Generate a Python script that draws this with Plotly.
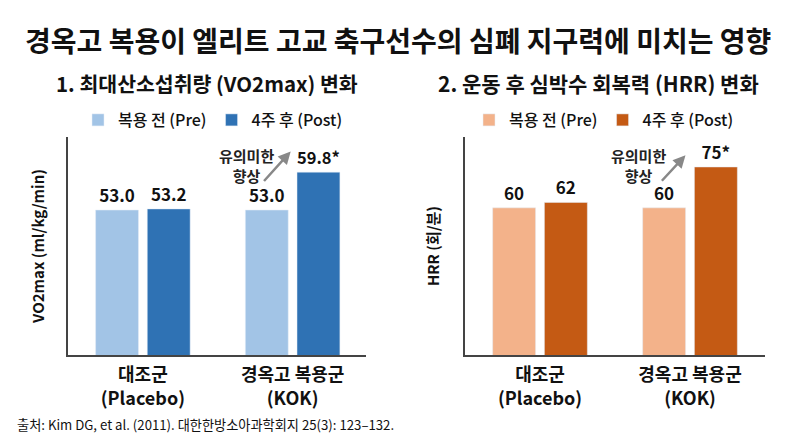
import plotly.graph_objects as go

# data
groups = ["대조군<br>(Placebo)", "경옥고 복용군<br>(KOK)"]
vo2_pre = [53.0, 53.0]
vo2_post = [53.2, 59.8]
vo2_post_labels = ["53.2", "59.8*"]
hrr_pre = [60, 60]
hrr_post = [62, 75]
hrr_post_labels = ["62", "75*"]

FONT = "Noto Sans CJK KR"
blue_pre, blue_post = "#A2C4E6", "#2F72B4"
orange_pre, orange_post = "#F3B28A", "#C45A14"
val_font = dict(family=FONT, size=17, color="#111", weight="bold")

# page body has an 8px margin, so work in window pixels and convert
W, H = 792, 428
def fx(px):
    return (px - 8) / W
def fy(py):
    return 1 - (py - 8) / H

fig = go.Figure()

fig.add_trace(go.Bar(x=groups, y=vo2_pre, name="복용 전 (Pre)", marker_color=blue_pre,
                     text=["%.1f" % v for v in vo2_pre], textposition="outside",
                     textfont=val_font, cliponaxis=False, xaxis="x", yaxis="y", legend="legend"))
fig.add_trace(go.Bar(x=groups, y=vo2_post, name="4주 후 (Post)", marker_color=blue_post,
                     text=vo2_post_labels, textposition="outside",
                     textfont=val_font, cliponaxis=False, xaxis="x", yaxis="y", legend="legend"))
fig.add_trace(go.Bar(x=groups, y=hrr_pre, name="복용 전 (Pre)", marker_color=orange_pre,
                     text=[str(v) for v in hrr_pre], textposition="outside",
                     textfont=val_font, cliponaxis=False, xaxis="x2", yaxis="y2", legend="legend2"))
fig.add_trace(go.Bar(x=groups, y=hrr_post, name="4주 후 (Post)", marker_color=orange_post,
                     text=hrr_post_labels, textposition="outside",
                     textfont=val_font, cliponaxis=False, xaxis="x2", yaxis="y2", legend="legend2"))

xcommon = dict(showline=True, linecolor="#444", linewidth=1.5, ticks="", showgrid=False,
               automargin=False, ticklabelstandoff=3,
               tickfont=dict(family=FONT, size=18, color="#111", weight="bold"))
ycommon = dict(showline=True, linecolor="#444", linewidth=1.5, ticks="", showgrid=False,
               showticklabels=False, zeroline=False, automargin=False)
legend_font = dict(family=FONT, size=16, color="#111", weight=500)

fig.update_layout(
    width=W, height=H,
    margin=dict(l=0, r=0, t=0, b=0, autoexpand=False),
    paper_bgcolor="white", plot_bgcolor="white",
    barmode="group", bargap=0.31, bargroupgap=0.17,
    font=dict(family=FONT, color="#111"),
    xaxis=dict(domain=[fx(68), fx(366)], range=[-0.5, 1.49], anchor="y", **xcommon),
    yaxis=dict(domain=[fy(355), fy(137)], range=[27, 66.1], anchor="x",
               title=dict(text="VO2max (ml/kg/min)", standoff=18,
                          font=dict(family=FONT, size=15, color="#111", weight="bold")),
               **ycommon),
    xaxis2=dict(domain=[fx(465), fx(765)], range=[-0.5, 1.5], anchor="y2", **xcommon),
    yaxis2=dict(domain=[fy(355), fy(137)], range=[6, 86], anchor="x2",
                title=dict(text="HRR (회/분)", standoff=20,
                           font=dict(family=FONT, size=15, color="#111", weight="bold")),
                **ycommon),
    legend=dict(orientation="h", x=fx(213), xanchor="center", y=fy(120), yanchor="middle",
                font=legend_font, itemwidth=30, bgcolor="rgba(0,0,0,0)"),
    legend2=dict(orientation="h", x=fx(604), xanchor="center", y=fy(120), yanchor="middle",
                 font=legend_font, itemwidth=30, bgcolor="rgba(0,0,0,0)"),
)

# titles
def paper_text(text, px, py, size, anchor="center", weight="bold"):
    fig.add_annotation(text=text, xref="paper", yref="paper", x=fx(px), y=fy(py),
                       xanchor=anchor, yanchor="middle", showarrow=False,
                       font=dict(family=FONT, size=size, color="#111", weight=weight))

paper_text("경옥고 복용이 엘리트 고교 축구선수의 심폐 지구력에 미치는 영향", 398, 40, 28)
paper_text("1. 최대산소섭취량 (VO2max) 변화", 207, 83, 20.5)
paper_text("2. 운동 후 심박수 회복력 (HRR) 변화", 598, 83, 21)
paper_text("출처: Kim DG, et al. (2011). 대한한방소아과학회지 25(3): 123–132.", 15, 424, 13.2,
           anchor="left", weight="normal")

# significance arrows
note_font = dict(family=FONT, size=15, color="#222", weight="bold")
fig.add_annotation(x=0.987, y=63.5, xref="x", yref="y", ax=-28, ay=31, text="",
                   showarrow=True, arrowhead=2, arrowsize=1, arrowwidth=2.5, arrowcolor="#888")
fig.add_annotation(x=0.69, y=61, xref="x", yref="y", text="유의미한<br>향상",
                   showarrow=False, font=note_font)
fig.add_annotation(x=0.97, y=79.3, xref="x2", yref="y2", ax=-25, ay=27, text="",
                   showarrow=True, arrowhead=2, arrowsize=1, arrowwidth=2.5, arrowcolor="#888")
fig.add_annotation(x=0.654, y=75.6, xref="x2", yref="y2", text="유의미한<br>향상",
                   showarrow=False, font=note_font)

fig.write_html("out.html")
